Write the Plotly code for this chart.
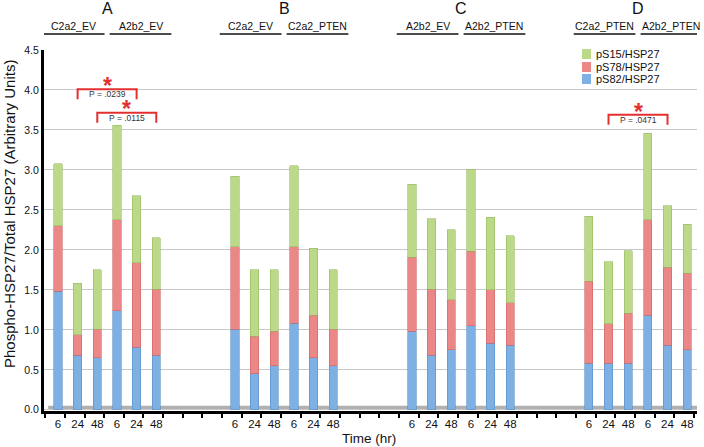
import plotly.graph_objects as go

# ---------------- data ----------------
groups = ["A", "B", "C", "D"]
subgroups = [("C2a2_EV", "A2b2_EV"), ("C2a2_EV", "C2a2_PTEN"),
             ("A2b2_EV", "A2b2_PTEN"), ("C2a2_PTEN", "A2b2_PTEN")]
times = ["6", "24", "48", "6", "24", "48"]

pS82 = [1.48, 0.68, 0.65, 1.24, 0.78, 0.68,
        1.01, 0.45, 0.55, 1.08, 0.65, 0.55,
        0.98, 0.68, 0.75, 1.05, 0.83, 0.81,
        0.58, 0.58, 0.58, 1.18, 0.81, 0.75]
pS78 = [0.82, 0.26, 0.36, 1.135, 1.06, 0.83,
        1.03, 0.47, 0.43, 0.96, 0.53, 0.46,
        0.93, 0.83, 0.625, 0.93, 0.67, 0.53,
        1.03, 0.495, 0.63, 1.195, 0.97, 0.96]
pS15 = [0.78, 0.64, 0.74, 1.185, 0.84, 0.64,
        0.88, 0.83, 0.77, 1.01, 0.84, 0.74,
        0.91, 0.88, 0.875, 1.03, 0.91, 0.84,
        0.81, 0.775, 0.78, 1.085, 0.77, 0.61]

# significance brackets: (group, bar index a, bar index b, p label)
sig = [(0, 1, 4, "P = .0239"), (0, 2, 5, "P = .0115"), (3, 1, 4, "P = .0471")]
sig_levels = [4.01, 3.716, 3.69]

series = [("pS82/HSP27", pS82, "#7fb0e3", "#5a8fc8"),
          ("pS78/HSP27", pS78, "#ec8787", "#d06464"),
          ("pS15/HSP27", pS15, "#bcd98a", "#98bb62")]

GAP = 9
xs = [g * GAP + j for g in range(len(groups)) for j in range(len(times))]
xlabels = [times[j] for g in range(len(groups)) for j in range(len(times))]

FONT = "Liberation Sans, Arial, sans-serif"

fig = go.Figure()
for name, vals, col, lcol in series:
    fig.add_trace(go.Bar(x=xs, y=vals, name=name, width=0.42,
                         marker=dict(color=col, line=dict(color=lcol, width=0.6)),
                         showlegend=False))

shapes = []
annotations = []

# floor band
shapes.append(dict(type="rect", xref="x", yref="y", x0=-0.5, x1=32.5, y0=0, y1=0.05,
                   fillcolor="#b0b0b0", line=dict(width=0), layer="below"))

def py(px):
    return 1 + (50 - px) / 361.0

# group headers
for g, letter in enumerate(groups):
    c = g * GAP + 2.5
    annotations.append(dict(text=letter, x=c, xref="x", y=py(8), yref="paper",
                            showarrow=False, font=dict(size=16, color="#111", family=FONT),
                            xanchor="center", yanchor="middle"))
    for k, sub in enumerate(subgroups[g]):
        sc = c + (-1.7 if k == 0 else 1.7)
        annotations.append(dict(text=sub, x=sc, xref="x", y=py(26), yref="paper",
                                showarrow=False, font=dict(size=10.5, color="#111", family=FONT),
                                xanchor="center", yanchor="middle"))
        shapes.append(dict(type="line", xref="x", yref="paper", x0=sc - 1.57, x1=sc + 1.57,
                           y0=py(34), y1=py(34), line=dict(color="#111", width=1.5)))

# significance brackets
RED = "#e3302f"
for (g, a, b, lab), lev in zip(sig, sig_levels):
    xa = g * GAP + a
    xb = g * GAP + b
    shapes.append(dict(type="path", xref="x", yref="y",
                       path=f"M {xa},{lev-0.125} L {xa},{lev} L {xb},{lev} L {xb},{lev-0.125}",
                       line=dict(color=RED, width=2)))
    mid = (xa + xb) / 2
    annotations.append(dict(text=lab, x=mid, y=lev - 0.065, xref="x", yref="y", showarrow=False,
                            font=dict(size=8.5, color="#333", family=FONT),
                            xanchor="center", yanchor="middle"))
    annotations.append(dict(text="<b>*</b>", x=mid, y=lev + 0.04, xref="x", yref="y", showarrow=False,
                            font=dict(size=23, color=RED, family=FONT),
                            xanchor="center", yanchor="bottom", yshift=-15))

# manual legend
leg_rows = [54, 67, 79]
for (name, vals, col, lcol), ry in zip(series[::-1], leg_rows):
    shapes.append(dict(type="rect", xref="paper", yref="paper",
                       x0=(582 - 44) / 653, x1=(591 - 44) / 653,
                       y0=py(ry + 5), y1=py(ry - 5), fillcolor=col, line=dict(width=0)))
    annotations.append(dict(text=name, x=(594 - 44) / 653, y=py(ry), xref="paper", yref="paper",
                            showarrow=False, font=dict(size=11, color="#111", family=FONT),
                            xanchor="left", yanchor="middle"))

# y title
annotations.append(dict(text="Phospho-HSP27/Total HSP27 (Arbitrary Units)", textangle=-90,
                        x=(9 - 44) / 653, y=py(214), xref="paper", yref="paper", showarrow=False,
                        font=dict(size=15, color="#111", family=FONT),
                        xanchor="center", yanchor="middle"))
# x title
annotations.append(dict(text="Time (hr)", x=(369 - 44) / 653, y=py(438), xref="paper", yref="paper",
                        showarrow=False, font=dict(size=13.5, color="#111", family=FONT),
                        xanchor="center", yanchor="middle"))

fig.update_layout(
    width=704, height=447,
    margin=dict(l=44, r=7, t=50, b=36),
    plot_bgcolor="white", paper_bgcolor="white",
    barmode="stack",
    font=dict(family=FONT, color="#111"),
    shapes=shapes, annotations=annotations,
    xaxis=dict(range=[-0.71, 32.5], tickmode="array", tickvals=xs, ticktext=xlabels,
               ticks="", showline=True, linecolor="black", linewidth=3,
               showgrid=False, zeroline=False, tickfont=dict(size=11.5, color="#111"),
               minor=dict(tickmode="array", tickvals=[k + 0.35 for k in range(-1, 33)],
                          ticks="outside", ticklen=4, tickwidth=1.5, tickcolor="black",
                          showgrid=False)),
    yaxis=dict(range=[-0.015, 4.5], tickmode="array",
               tickvals=[0, 0.5, 1, 1.5, 2, 2.5, 3, 3.5, 4, 4.5], tickformat=".1f",
               ticks="", showline=True, linecolor="black", linewidth=3,
               showgrid=True, gridcolor="#c8c8c8", gridwidth=1.3, zeroline=False,
               tickfont=dict(size=10.5, color="#111")),
)

fig.write_html("out.html", config={"displayModeBar": False},
               post_script="document.body.style.margin='0';document.body.style.overflow='hidden';")
